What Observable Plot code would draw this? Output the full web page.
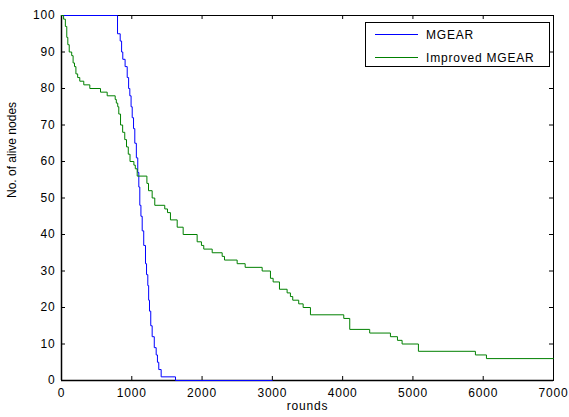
<!DOCTYPE html>
<html><head><meta charset="utf-8">
<script src="https://cdn.jsdelivr.net/npm/d3@7"></script>
<script src="https://cdn.jsdelivr.net/npm/@observablehq/plot@0.6"></script>
<style>
html,body{margin:0;padding:0;background:#fff;}
#wrap{position:relative;width:569px;height:417px;overflow:hidden;font-family:"Liberation Sans",Arial,Helvetica,sans-serif;}
#wrap svg text{letter-spacing:0.8px;}
#legend{position:absolute;left:365px;top:22px;width:183px;height:43px;border:1px solid #000;background:#fff;}
#legend svg{display:block;}
#legend text{font-family:"Liberation Sans",Arial,sans-serif;font-size:12px;letter-spacing:1.2px;}
</style></head><body><div id="wrap"></div>
<script>
const xTicks = [0, 1000, 2000, 3000, 4000, 5000, 6000, 7000];
const yTicks = [0, 10, 20, 30, 40, 50, 60, 70, 80, 90, 100];
const seriesNames = ["MGEAR", "Improved MGEAR"];
const seriesColors = ["#0000ff", "#008000"];
const xLabel = "rounds";
const yLabel = "No. of alive nodes";

const mgearRounds = [0, 797, 835, 855, 872, 905, 935, 955, 972, 990, 1006, 1025, 1043, 1065, 1085, 1100, 1114, 1130, 1148, 1170, 1195, 1210, 1228, 1240, 1252, 1270, 1290, 1320, 1347, 1365, 1384, 1418, 1622, 3000];
const mgearAlive  = [100, 95, 93, 90, 88, 86, 83, 80, 78, 75, 72, 69, 65, 61, 57, 53, 48, 45, 41, 37, 32, 29, 26, 22, 19, 15, 12, 9, 7, 5, 3, 1, 0, 0];

const improvedRounds = [0, 30, 55, 75, 90, 110, 145, 165, 185, 205, 230, 260, 317, 403, 555, 650, 764, 780, 800, 815, 840, 870, 900, 925, 950, 975, 1030, 1050, 1077, 1215, 1238, 1290, 1327, 1469, 1508, 1550, 1646, 1731, 1930, 1991, 2024, 2144, 2286, 2319, 2499, 2613, 2855, 2973, 3011, 3101, 3210, 3257, 3290, 3375, 3438, 3542, 4016, 4101, 4385, 4680, 4780, 4846, 5078, 5889, 6046, 7000];
const improvedAlive  = [100, 99, 97, 94, 92, 90, 89, 87, 86, 84, 83, 82, 81, 80, 79, 78, 77, 76, 75, 73, 70, 68, 66, 64, 62, 60, 59, 58, 56, 54, 52, 50, 48, 47, 46, 44, 42, 40, 38, 37, 36, 35, 34, 33, 32, 31, 30, 28, 27, 25, 24, 23, 22, 21, 20, 18, 17, 14, 13, 12, 11, 10, 8, 7, 6, 6];

const mgear = mgearRounds.map((r, i) => ({round: r, alive: mgearAlive[i]}));
const improved = improvedRounds.map((r, i) => ({round: r, alive: improvedAlive[i]}));

const W = 569, H = 417, mL = 61, mR = 16, mT = 15, mB = 37;
const plotW = W - mL - mR, plotH = H - mT - mB, tickLen = 4;

const chart = Plot.plot({
  width: W, height: H,
  marginLeft: mL, marginRight: mR, marginTop: mT, marginBottom: mB,
  style: {fontFamily: "'Liberation Sans', Arial, Helvetica, sans-serif", fontSize: "12px", background: "transparent", color: "#000", overflow: "visible"},
  x: {domain: [0, 7000]},
  y: {domain: [0, 100]},
  marks: [
    Plot.frame({stroke: "#000", strokeWidth: 1}),
    Plot.ruleX([0], {stroke: "#000", strokeWidth: 1.5}),
    Plot.ruleY([0], {stroke: "#000", strokeWidth: 1.5}),
    Plot.ruleX(xTicks, {stroke: "#000", insetTop: plotH - tickLen}),
    Plot.ruleX(xTicks, {stroke: "#000", insetBottom: plotH - tickLen}),
    Plot.ruleY(yTicks, {stroke: "#000", insetRight: plotW - tickLen}),
    Plot.ruleY(yTicks, {stroke: "#000", insetLeft: plotW - tickLen}),
    Plot.axisX(xTicks, {anchor: "bottom", tickSize: 0, tickPadding: 8, tickFormat: d => String(d), label: null, fill: "#000"}),
    Plot.axisY(yTicks, {anchor: "left", tickSize: 0, tickPadding: 6, tickFormat: d => String(d), label: null, fill: "#000"}),
    Plot.text([xLabel], {frameAnchor: "bottom", dy: 29, fill: "#000"}),
    Plot.text([yLabel], {frameAnchor: "left", rotate: -90, dx: -49, fill: "#000"}),
    Plot.line(mgear, {x: "round", y: "alive", curve: "step-after", stroke: seriesColors[0], strokeWidth: 1}),
    Plot.line(improved, {x: "round", y: "alive", curve: "step-after", stroke: seriesColors[1], strokeWidth: 1})
  ]
});
const wrap = document.getElementById("wrap");
wrap.appendChild(chart);
d3.select(chart).selectAll("text").filter(function(){ return this.textContent === yLabel; }).style("letter-spacing", "0px");

// legend
const leg = document.createElement("div");
leg.id = "legend";
wrap.appendChild(leg);
const ls = d3.select(leg).append("svg").attr("width", 183).attr("height", 43);
const rowsY = [11, 34];
seriesNames.forEach((name, i) => {
  ls.append("line").attr("x1", 9).attr("x2", 52).attr("y1", rowsY[i] + 0.5).attr("y2", rowsY[i] + 0.5)
    .attr("stroke", seriesColors[i]).attr("stroke-width", 1);
  ls.append("text").attr("x", 60).attr("y", rowsY[i] + 1).attr("dy", "0.35em").attr("fill", "#000").text(name);
});
</script>
</body></html>
